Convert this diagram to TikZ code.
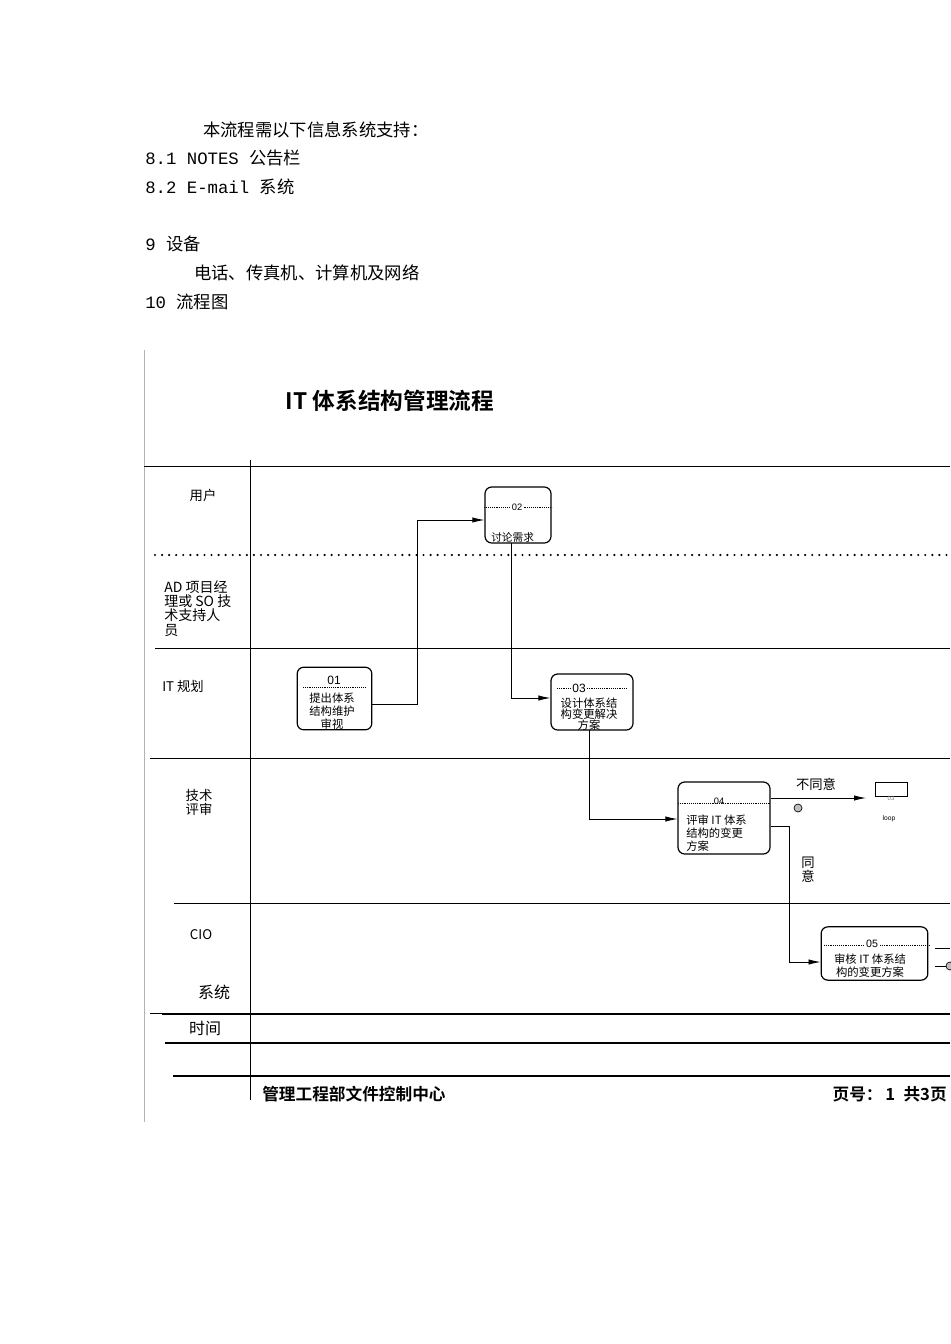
\documentclass[tikz,border=0pt]{standalone}
\usepackage{fontspec}
\setmainfont{Liberation Sans}
\newfontfamily\cjk{Noto Sans CJK SC}
\newfontfamily\cjkb{Noto Sans CJK SC Bold}
\newfontfamily\mono{Liberation Mono}
\usetikzlibrary{arrows.meta}
\begin{document}
\begin{tikzpicture}[x=0.75pt,y=-0.75pt,
  lane/.style={line width=0.6pt},
  thick lane/.style={line width=1.6pt},
  proc/.style={draw,rounded corners=5pt,line width=0.9pt},
  flow/.style={line width=0.6pt,-{Latex[length=9pt,width=4pt]}},
  flowplain/.style={line width=0.6pt},
  lbl/.style={font=\cjk\fontsize{10}{11}\selectfont,inner sep=0pt},
  small/.style={font=\cjk\fontsize{8}{9}\selectfont,inner sep=0pt,align=center},
  doc/.style={font=\cjk\fontsize{13}{15}\selectfont,inner sep=0pt,anchor=west}]
\useasboundingbox (0,0) rectangle (950,1344);
% top text
\node[doc] (t1) at (203,130) {本流程需以下信息系统支持：};
\node[doc] (t2) at (145,158) {{\mono 8.1 NOTES }公告栏};
\node[doc] (t3) at (145,187) {{\mono 8.2  E-mail }系统};
\node[doc] (t4) at (145,244) {{\mono 9  }设备};
\node[doc] (t5) at (194,273) {电话、传真机、计算机及网络};
\node[doc] (t6) at (145,302) {{\mono 10  }流程图};
% frame
\draw[gray!60,line width=0.5pt] (144,350) -- (144,1122);
\node[font=\cjkb\fontsize{17}{19}\selectfont,inner sep=0pt] (title) at (390,401) {IT 体系结构管理流程};
\draw[lane] (144,466) -- (950,466);
\draw[lane] (250,460) -- (250,1100);
\draw[line width=1.8pt,dotted,line cap=round,dash pattern=on 0pt off 5.3pt] (155,555) -- (950,555);
\draw[lane] (155,648) -- (950,648);
\draw[lane] (150,758) -- (950,758);
\draw[lane] (174,903) -- (950,903);
\draw[lane] (150,1013) -- (162,1013);
\draw[thick lane] (162,1014) -- (950,1014);
\draw[thick lane] (165,1043) -- (950,1043);
\draw[thick lane] (173,1076) -- (950,1076);
% lane labels
\node[lbl] (lu) at (203,495) {用户};
\node[lbl,anchor=north west,align=left,font=\cjk\fontsize{10.5}{10.8}\selectfont] (lad) at (164,580) {AD 项目经\\理或 SO 技\\术支持人\\员};
\node[lbl,anchor=west] (lit) at (162,686) {IT 规划};
\node[lbl,align=center,font=\cjk\fontsize{10}{10.5}\selectfont] (lts) at (199,802) {技术\\评审};
\node[lbl] (lcio) at (201,935) {CIO};
\node[lbl,font=\cjk\fontsize{12}{13}\selectfont] (lsys) at (214,992) {系统};
\node[lbl,font=\cjk\fontsize{12}{13}\selectfont] (ltime) at (205,1028) {时间};
\node[font=\cjkb\fontsize{12.5}{14}\selectfont,inner sep=0pt,anchor=west] (foot) at (262,1094) {管理工程部文件控制中心};
\node[font=\cjkb\fontsize{12.5}{14}\selectfont,inner sep=0pt,anchor=east] (page) at (947,1094) {页号：\,1\,\,\,共3页};
% boxes
\node[proc,minimum width=49.5pt,minimum height=42pt] (b02) at (518,515) {};
\draw[densely dotted,line width=0.4pt] (b02.west|-0,507) -- (b02.east|-0,507);
\node[small,fill=white,inner xsep=1pt,font=\fontsize{7}{8}\selectfont] (n02) at (517,507) {02};
\node[small,anchor=west] (x02) at (491,537) {讨论需求};

\node[proc,minimum width=56pt,minimum height=47pt] (b01) at (334.5,698.5) {};
\draw[densely dotted,line width=0.4pt] (303,687) -- (366,687);
\node[small,font=\fontsize{9}{10}\selectfont] (n01) at (334,680) {01};
\node[small,font=\cjk\fontsize{8.5}{9.8}\selectfont] (x01) at (332,711) {提出体系\\结构维护\\审视};

\node[proc,minimum width=61.5pt,minimum height=42pt] (b03) at (592,702) {};
\draw[densely dotted,line width=0.4pt] (557,688) -- (627,688);
\node[small,fill=white,inner xsep=1pt,font=\fontsize{9}{10}\selectfont] (n03) at (579,688) {03};
\node[small,font=\cjk\fontsize{8.5}{8.3}\selectfont] (x03) at (589,714) {设计体系结\\构变更解决\\方案};

\node[proc,minimum width=69pt,minimum height=54pt] (b04) at (724,818) {};
\draw[densely dotted,line width=0.4pt] (678,803) -- (770,803);
\node[small,font=\fontsize{7}{8}\selectfont] (n04) at (719,801) {04};
\node[small,anchor=north west,align=left,font=\cjk\fontsize{8.5}{9.7}\selectfont] (x04) at (686,815) {评审 IT 体系\\结构的变更\\方案};

\node[proc,minimum width=80pt,minimum height=40pt] (b05) at (874.5,953.5) {};
\draw[densely dotted,line width=0.4pt] (824,945) -- (930,945);
\node[small,fill=white,inner xsep=1pt,font=\fontsize{8}{9}\selectfont] (n05) at (872,944) {05};
\node[small,font=\cjk\fontsize{8.5}{9.7}\selectfont] (x05) at (870,966) {审核 IT 体系结\\构的变更方案};

\node[draw,line width=0.6pt,minimum width=24.5pt,minimum height=11pt,inner sep=0pt] (bl) at (891.5,789.5) {};
\node[inner sep=0pt,text=gray,font=\fontsize{4.5}{5}\selectfont] (n03b) at (891,798) {03};
\node[inner sep=0pt,font=\fontsize{5}{6}\selectfont\rmfamily] (loop) at (889,819) {loop};
\node[circle,draw,fill=gray!50,minimum size=6pt,inner sep=0pt,line width=0.5pt] (c1) at (798,808) {};
\node[circle,draw,fill=gray!50,minimum size=6pt,inner sep=0pt,line width=0.5pt] (c2) at (950,966) {};
\coordinate (s1) at (935,948);
\coordinate (s2) at (935,966);
\draw[line width=0.5pt] (s1) -- (950,948);
\draw[line width=0.5pt] (s2) -- (c2.west);
% connectors
\draw[flow] (b01.east|-0,704) -| (417,520) -- (b02.west|-0,520);
\draw[flow] (511,543) |- (b03.west|-0,698);
\draw[flow] (589,730) |- (b04.west|-0,819);
\coordinate (dis) at (866,798);
\draw[flow] (b04.east|-0,798) -- (dis);
\node[lbl] (ldis) at (816,784) {不同意};
\draw[flow] (b04.east|-0,826) -| (789,962) -- (b05.west|-0,962);
\node[lbl,align=center,font=\cjk\fontsize{10}{10.5}\selectfont] (lagr) at (808,870) {同\\意};
\end{tikzpicture}
\end{document}
